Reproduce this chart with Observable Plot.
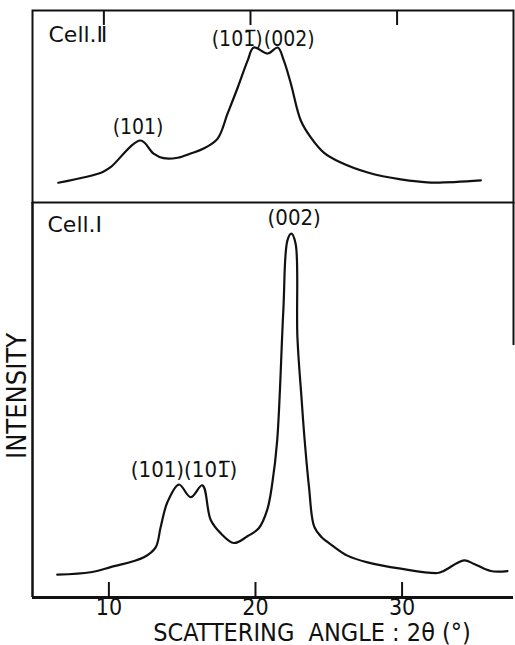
<!DOCTYPE html>
<html><head><meta charset="utf-8">
<script src="https://cdn.jsdelivr.net/npm/d3@7"></script>
<script src="https://cdn.jsdelivr.net/npm/@observablehq/plot@0.6"></script>
<style>
body{margin:0;background:#fff;}
#chart{position:relative;width:515px;height:645px;overflow:hidden;background:#fff;}
#chart svg{position:absolute;left:0;background:transparent;}
</style></head><body><div id="chart"></div>
<script>
// ---- data ----
const angleTicks = [10, 20, 30];
const xTitle = "SCATTERING\u00a0\u00a0ANGLE : 2θ (°)";
const yTitle = "INTENSITY";
const panelNames = ["Cell.Ⅱ", "Cell.Ⅰ"];

// Cell II (upper panel)
const cell2Angle = [6.55, 9.55, 10.12, 12.16, 13.05, 13.73, 14.69, 15.58, 16.46, 17.42, 18.10, 18.79, 19.47, 19.88, 20.84, 21.52, 21.93, 22.41, 23.09, 23.77, 24.66, 25.82, 27.66, 29.91, 31.96, 35.37];
const cell2Intensity = [10.3, 15.8, 18.4, 32.3, 25.5, 23.1, 23.3, 25.5, 28.1, 33.3, 46.4, 59.9, 74.0, 80.7, 77.6, 80.7, 74.0, 62.0, 42.7, 33.9, 26.0, 20.8, 15.6, 12.0, 10.4, 11.5];
const cell2PeakLabels = ["(101)", "(101\u0305)", "(002)"];
const cell2PeakLabelAngle = [11.99, 18.75, 22.30];
const cell2PeakLabelIntensity = [39.1, 85.2, 85.2];

// Cell I (lower panel)
const cell1Angle = [6.48, 8.75, 10.12, 12.39, 13.19, 13.53, 13.99, 14.78, 15.58, 16.38, 16.94, 17.62, 18.53, 19.45, 20.24, 20.81, 21.15, 21.48, 21.90, 22.18, 22.45, 22.74, 22.86, 23.15, 23.35, 23.65, 24.00, 24.50, 25.30, 26.27, 27.64, 29.91, 32.42, 32.87, 34.23, 34.91, 36.05, 37.19];
const cell1Intensity = [5.8, 6.4, 7.7, 10.2, 12.7, 17.8, 24.1, 28.6, 25.4, 28.4, 19.7, 16.3, 13.8, 15.5, 17.6, 22.3, 29.0, 39.7, 72.7, 90.4, 92.1, 89.5, 65.9, 50.0, 40.0, 28.0, 18.0, 15.3, 13.0, 10.6, 8.9, 7.3, 6.2, 6.8, 9.4, 8.5, 6.7, 6.7];
const cell1PeakLabels = ["(002)", "(101)(101\u0305)"];
const cell1PeakLabelAngle = [22.64, 15.13];
const cell1PeakLabelIntensity = [96.0, 32.4];

const xDomain = [4.79, 37.6];
const yDomain = [0, 100];

// ---- build tables ----
const cell2 = cell2Angle.map((a, i) => ({angle: a, intensity: cell2Intensity[i]}));
const cell1 = cell1Angle.map((a, i) => ({angle: a, intensity: cell1Intensity[i]}));
const lab2 = cell2PeakLabels.map((t, i) => ({text: t, angle: cell2PeakLabelAngle[i], intensity: cell2PeakLabelIntensity[i]}));
const lab1 = cell1PeakLabels.map((t, i) => ({text: t, angle: cell1PeakLabelAngle[i], intensity: cell1PeakLabelIntensity[i]}));

const INK = "#111";
const FONT = "'DejaVu Sans Condensed','Liberation Sans Narrow','DejaVu Sans',sans-serif";
const FONT_CELL = "'DejaVu Sans',sans-serif";
const common = {
  width: 515, marginLeft: 32, marginRight: 2,
  x: {domain: xDomain, axis: null},
  y: {domain: yDomain, axis: null},
  style: {fontFamily: FONT, fontSize: "20px", color: INK, background: "transparent", overflow: "visible"}
};

const lower = Plot.plot({
  ...common,
  height: 443, marginTop: 0, marginBottom: 48,
  marks: [
    Plot.ruleY([yDomain[0]], {stroke: INK, strokeWidth: 3}),
    Plot.ruleX([xDomain[0]], {stroke: INK, strokeWidth: 2.5}),
    Plot.ruleX([xDomain[1]], {stroke: INK, strokeWidth: 2, insetBottom: 252}),
    Plot.ruleX(angleTicks, {stroke: INK, strokeWidth: 2, insetTop: 380}),
    Plot.axisX(angleTicks, {label: null, tickSize: 0, tickPadding: 1, fontSize: 23, fill: INK}),
    Plot.line(cell1, {x: "angle", y: "intensity", curve: "catmull-rom", stroke: INK, strokeWidth: 2.2}),
    Plot.text(lab1, {x: "angle", y: "intensity", text: "text", fontSize: 22, fill: INK}),
    Plot.text([panelNames[1]], {frameAnchor: "top-left", dx: 15, dy: 14, textAnchor: "start", lineAnchor: "top", fontSize: 22, fontFamily: FONT_CELL, fill: INK}),
    Plot.text([yTitle], {frameAnchor: "left", rotate: -90, dx: -15, dy: -4, textAnchor: "middle", lineAnchor: "middle", fontSize: 27, fill: INK}),
    Plot.text([xTitle], {frameAnchor: "bottom", dx: 39, dy: 35, textAnchor: "middle", lineAnchor: "middle", fontSize: 25, fill: INK})
  ]
});

const upper = Plot.plot({
  ...common,
  height: 203, marginTop: 10, marginBottom: 1,
  marks: [
    Plot.frame({stroke: INK, strokeWidth: 2}),
    Plot.ruleX(angleTicks, {stroke: INK, strokeWidth: 2, insetBottom: 177, dx: -5}),
    Plot.line(cell2, {x: "angle", y: "intensity", curve: "catmull-rom", stroke: INK, strokeWidth: 2.2}),
    Plot.text(lab2, {x: "angle", y: "intensity", text: "text", fontSize: 21, fill: INK}),
    Plot.text([panelNames[0]], {frameAnchor: "top-left", dx: 16, dy: 16, textAnchor: "start", lineAnchor: "top", fontSize: 22, fontFamily: FONT_CELL, fill: INK})
  ]
});

const chart = document.getElementById("chart");
lower.style.top = "202px";
upper.style.top = "0px";
chart.appendChild(lower);
chart.appendChild(upper);
</script>
</body></html>
